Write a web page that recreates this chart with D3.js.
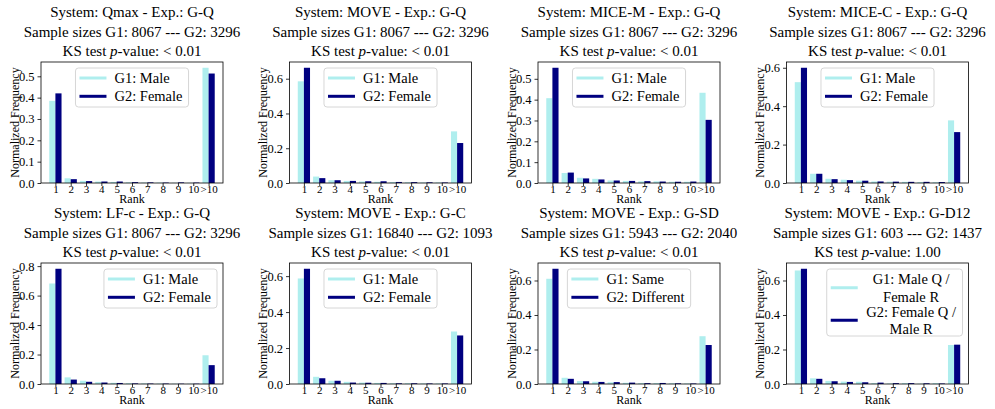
<!DOCTYPE html>
<html>
<head>
<meta charset="utf-8">
<script src="https://cdn.jsdelivr.net/npm/d3@7"></script>
<style>
  body { margin: 0; background: white; }
  svg text { font-family: "Liberation Serif", "Times New Roman", "DejaVu Serif", serif; }
</style>
</head>
<body>
<div id="chart"></div>
<script>
// Chart data
const rankLabels = ["1", "2", "3", "4", "5", "6", "7", "8", "9", "10", ">10"];

const systems = ["Qmax", "MOVE", "MICE-M", "MICE-C", "LF-c", "MOVE", "MOVE", "MOVE"];
const experiments = ["G-Q", "G-Q", "G-Q", "G-Q", "G-Q", "G-C", "G-SD", "G-D12"];
const sizesG1 = [8067, 8067, 8067, 8067, 8067, 16840, 5943, 603];
const sizesG2 = [3296, 3296, 3296, 3296, 3296, 1093, 2040, 1437];
const pValues = ["< 0.01", "< 0.01", "< 0.01", "< 0.01", "< 0.01", "< 0.01", "< 0.01", "1.00"];

const g1Labels = ["G1: Male", "G1: Male", "G1: Male", "G1: Male", "G1: Male", "G1: Male", "G1: Same", "G1: Male Q /\nFemale R"];
const g2Labels = ["G2: Female", "G2: Female", "G2: Female", "G2: Female", "G2: Female", "G2: Female", "G2: Different", "G2: Female Q /\nMale R"];

// normalized frequency per rank (1..10, >10)
const g1Freq = [
  [0.385, 0.022, 0.010, 0.007, 0.005, 0.003, 0.002, 0.002, 0.001, 0.001, 0.540],
  [0.585, 0.037, 0.016, 0.012, 0.009, 0.007, 0.005, 0.004, 0.003, 0.003, 0.297],
  [0.407, 0.048, 0.025, 0.020, 0.012, 0.010, 0.008, 0.008, 0.006, 0.006, 0.433],
  [0.525, 0.048, 0.022, 0.017, 0.012, 0.008, 0.007, 0.006, 0.005, 0.004, 0.326],
  [0.682, 0.045, 0.022, 0.012, 0.008, 0.005, 0.004, 0.003, 0.002, 0.002, 0.195],
  [0.587, 0.040, 0.018, 0.012, 0.008, 0.006, 0.004, 0.004, 0.003, 0.003, 0.292],
  [0.610, 0.036, 0.017, 0.013, 0.010, 0.007, 0.005, 0.005, 0.004, 0.003, 0.277],
  [0.658, 0.033, 0.018, 0.014, 0.013, 0.005, 0.003, 0.005, 0.002, 0.005, 0.226]
];
const g2Freq = [
  [0.420, 0.018, 0.009, 0.007, 0.007, 0.004, 0.003, 0.002, 0.003, 0.002, 0.513],
  [0.663, 0.028, 0.016, 0.012, 0.010, 0.010, 0.006, 0.005, 0.004, 0.003, 0.230],
  [0.553, 0.050, 0.022, 0.017, 0.012, 0.010, 0.009, 0.007, 0.006, 0.007, 0.303],
  [0.600, 0.048, 0.020, 0.015, 0.012, 0.008, 0.007, 0.006, 0.006, 0.005, 0.265],
  [0.782, 0.030, 0.015, 0.010, 0.007, 0.004, 0.003, 0.003, 0.002, 0.002, 0.128],
  [0.641, 0.032, 0.018, 0.008, 0.007, 0.006, 0.004, 0.004, 0.003, 0.003, 0.270],
  [0.668, 0.030, 0.016, 0.012, 0.011, 0.008, 0.005, 0.006, 0.004, 0.003, 0.226],
  [0.668, 0.030, 0.016, 0.012, 0.010, 0.008, 0.005, 0.005, 0.004, 0.003, 0.228]
];

// legend placement per panel
const legendLoc = ["center", "center", "center", "center", "right", "center", "center", "right"];

const width = 995;
const height = 409;
const colorG1 = "#afeeee";
const colorG2 = "#000080";
const FONT = "Liberation Serif, Times New Roman, DejaVu Serif, serif";

const svg = d3.select("#chart")
  .append("svg")
  .attr("width", width)
  .attr("height", height)
  .attr("font-family", FONT)
  .style("background-color", "white");

const colLeft = [41, 289.5, 538, 786.5];
const rowTop = [62, 263];
const plotW = 182;
const plotH = 121;

systems.forEach((sys, i) => {
  const col = i % 4;
  const row = Math.floor(i / 4);
  const g = svg.append("g")
    .attr("transform", `translate(${colLeft[col]},${rowTop[row]})`);

  const x = d3.scaleLinear().domain([0.06, 11.94]).range([0, plotW]);
  const ymax = d3.max(g1Freq[i].concat(g2Freq[i])) * 1.05;
  const y = d3.scaleLinear().domain([0, ymax]).range([plotH, 0]);
  const step = ymax > 0.6 ? 0.2 : 0.1;
  const yTicks = d3.range(0, ymax + 1e-9, step);

  // title, three lines
  const title = g.append("text")
    .attr("x", plotW / 2)
    .attr("text-anchor", "middle")
    .attr("font-family", FONT)
    .style("font-size", "15px");
  title.append("tspan").attr("x", plotW / 2).attr("y", -45)
    .text(`System: ${sys} - Exp.: ${experiments[i]}`);
  title.append("tspan").attr("x", plotW / 2).attr("y", -25.5)
    .text(`Sample sizes G1: ${sizesG1[i]} --- G2: ${sizesG2[i]}`);
  const l3 = title.append("tspan").attr("x", plotW / 2).attr("y", -6);
  l3.append("tspan").text("KS test ");
  l3.append("tspan").style("font-style", "italic").text("p");
  l3.append("tspan").text(`-value: ${pValues[i]}`);

  // bars
  g.append("g").selectAll("rect")
    .data(g1Freq[i])
    .enter().append("rect")
    .attr("x", (d, k) => x(k + 1 - 0.4))
    .attr("width", x(0.4) - x(0))
    .attr("y", d => y(d))
    .attr("height", d => y(0) - y(d))
    .attr("fill", colorG1);

  g.append("g").selectAll("rect")
    .data(g2Freq[i])
    .enter().append("rect")
    .attr("x", (d, k) => x(k + 1))
    .attr("width", x(0.4) - x(0))
    .attr("y", d => y(d))
    .attr("height", d => y(0) - y(d))
    .attr("fill", colorG2);

  // axes
  const yAxis = g.append("g")
    .call(d3.axisLeft(y).tickValues(yTicks).tickSize(3.5).tickPadding(3).tickFormat(d3.format(".1f")));
  const xAxis = g.append("g")
    .attr("transform", `translate(0,${plotH})`)
    .call(d3.axisBottom(x).tickValues(d3.range(1, 12)).tickSize(3).tickPadding(-1)
      .tickFormat((d, k) => rankLabels[k]));
  [yAxis, xAxis].forEach(a => {
    a.attr("font-family", FONT);
    a.select(".domain").remove();
    a.selectAll("line").attr("stroke", "black").attr("stroke-width", 0.8);
    a.selectAll("text").attr("fill", "black");
  });
  yAxis.attr("font-size", 12.5);
  xAxis.attr("font-size", 11);

  // frame
  g.append("rect")
    .attr("width", plotW)
    .attr("height", plotH)
    .attr("fill", "none")
    .attr("stroke", "black")
    .attr("stroke-width", 0.8);

  // axis labels
  g.append("text")
    .attr("x", plotW / 2)
    .attr("y", plotH + 19.5)
    .attr("text-anchor", "middle")
    .style("font-size", "12px")
    .text("Rank");
  g.append("text")
    .attr("transform", `translate(${-22.5},${plotH / 2}) rotate(-90)`)
    .attr("text-anchor", "middle")
    .style("font-size", "12px")
    .text("Normalized Frequency");

  // legend
  const leg = g.append("g");
  const box = leg.append("rect")
    .attr("rx", 3)
    .attr("fill", "white")
    .attr("fill-opacity", 0.8)
    .attr("stroke", "#cccccc")
    .attr("stroke-width", 0.8);
  const labels = [g1Labels[i], g2Labels[i]];
  const colors = [colorG1, colorG2];
  const multi = labels[0].includes("\n");
  const lineH = multi ? 17.5 : 18.3;
  let yy = 10;
  let maxW = 0;
  const texts = [];
  labels.forEach((lab, k) => {
    const lines = lab.split("\n");
    const t = leg.append("text")
      .style("font-size", "14.5px")
      .attr("text-anchor", multi ? "middle" : "start");
    lines.forEach((ln, j) => {
      t.append("tspan").attr("x", 0).attr("y", yy + j * lineH + 5).text(ln);
    });
    const w = t.node().getBBox().width;
    maxW = Math.max(maxW, w);
    texts.push(t);
    const swY = yy + (lines.length - 1) * lineH / 2;
    leg.append("line")
      .attr("x1", 4).attr("x2", 31)
      .attr("y1", swY)
      .attr("y2", swY)
      .attr("stroke", colors[k])
      .attr("stroke-width", 3);
    yy += lines.length * lineH + (multi ? -2.5 : 0);
  });
  texts.forEach(t => {
    t.selectAll("tspan").attr("x", multi ? 39 + maxW / 2 : 39);
  });
  const boxW = 39 + maxW + 6;
  const boxH = multi ? 67 : 39;
  box.attr("width", boxW).attr("height", boxH);
  const lx = legendLoc[i] === "right" ? plotW - 6 - boxW : (plotW - boxW) / 2;
  leg.attr("transform", `translate(${lx},6)`);
});
</script>
</body>
</html>
